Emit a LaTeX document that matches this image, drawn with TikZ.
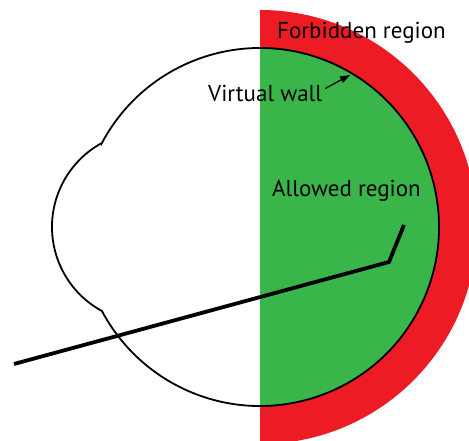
\documentclass[tikz,border=0pt]{standalone}
\usepackage{fontspec}
\setmainfont{PT Sans}
\usetikzlibrary{arrows.meta,calc}
\definecolor{forbidred}{HTML}{ED1C24}
\definecolor{allowgreen}{HTML}{39B54A}
\tikzset{
  outline/.style={line width=1.8pt, draw=black},
  lbl/.style={inner sep=0pt, font=\fontsize{23}{27}\selectfont, anchor=base west},
  probe/.style={line width=3.8pt, line join=miter},
  ptr/.style={line width=1.2pt, -{Triangle[length=10pt,width=7pt]}}
}
\begin{document}
\begin{tikzpicture}[x=1pt,y=1pt]
\useasboundingbox (0,0) rectangle (469,441);
\clip (0,0) rectangle (469,441);
\coordinate (C) at (260,214);
% forbidden region (half annulus)
\fill[forbidred] (260,431) arc[start angle=90,end angle=-90,radius=217pt]
  -- (260,35) arc[start angle=-90,end angle=90,radius=179pt] -- cycle;
% allowed region (half disc)
\fill[allowgreen] (260,393) arc[start angle=90,end angle=-90,radius=179pt] -- cycle;
% head outline
\draw[outline] (C) ++(152:179pt) arc[start angle=152,end angle=-152,radius=179pt]
  arc[start angle=241.46,end angle=118.54,radius=95.67pt] -- cycle;
% labels
\node[lbl] (forb) at (277,402) {Forbidden region};
\node[lbl] (vw) at (208,339.5) {Virtual wall};
\node[lbl] (allow) at (272,244.3) {Allowed region};
% pointer to wall
\coordinate (wall) at (350,366);
\draw[ptr] ([shift={(3,5)}]vw.east) -- (wall);
% probe
\coordinate (p1) at (14,77);
\coordinate (p2) at (389,179);
\coordinate (p3) at (404,216);
\draw[probe] (p1) -- (p2) -- (p3);
\end{tikzpicture}
\end{document}
